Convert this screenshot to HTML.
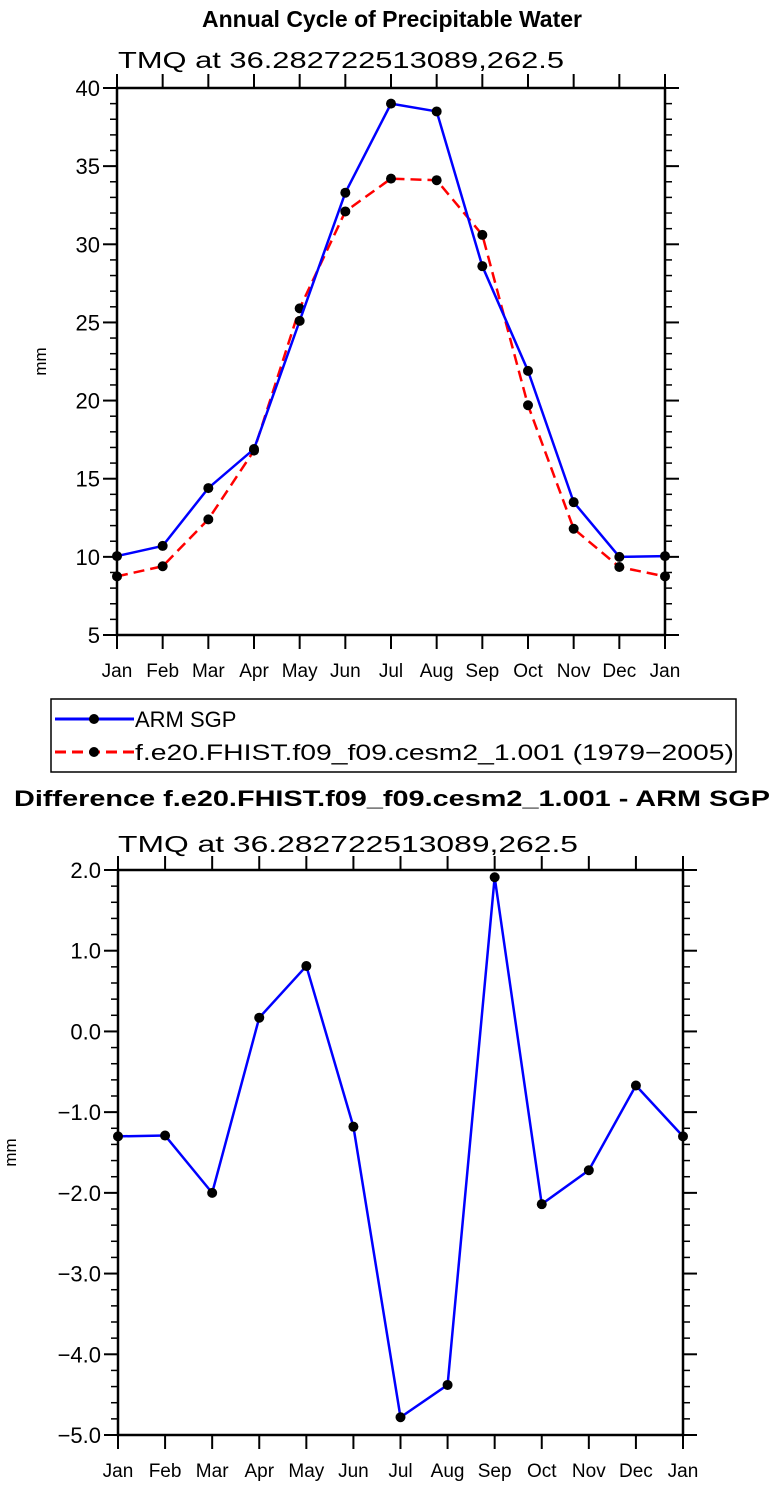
<!DOCTYPE html>
<html><head><meta charset="utf-8"><style>
html,body{margin:0;padding:0;background:#fff;}
svg{display:block;font-family:"Liberation Sans",sans-serif;}
</style></head><body>
<svg id="c" width="778" height="1489" viewBox="0 0 778 1489">
<text x="392" y="27" text-anchor="middle" font-size="23" font-weight="bold">Annual Cycle of Precipitable Water</text>
<text x="118" y="68" font-size="23" textLength="446" lengthAdjust="spacingAndGlyphs">TMQ at 36.282722513089,262.5</text>
<text x="392" y="806" text-anchor="middle" font-size="22" font-weight="bold" textLength="756" lengthAdjust="spacingAndGlyphs">Difference f.e20.FHIST.f09_f09.cesm2_1.001 - ARM SGP</text>
<text x="118" y="852" font-size="23" textLength="460" lengthAdjust="spacingAndGlyphs">TMQ at 36.282722513089,262.5</text>
<g>
<rect x="51" y="699" width="685" height="73" fill="#fff" stroke="#000" stroke-width="1.5"/>
<g>
<line x1="55" y1="719" x2="134" y2="719" stroke="#0000ff" stroke-width="3"/>
<circle cx="94" cy="719" r="5" fill="#000"/>
<text x="135" y="727" font-size="22">ARM SGP</text></g>
<g>
<line x1="55" y1="752" x2="134" y2="752" stroke="#ff0000" stroke-width="3" stroke-dasharray="11,6"/>
<circle cx="94" cy="752" r="5" fill="#000"/>
<text x="135" y="760" font-size="22" textLength="599" lengthAdjust="spacingAndGlyphs">f.e20.FHIST.f09_f09.cesm2_1.001 (1979−2005)</text></g>
</g>
</svg>
<script>
const months = ["Jan","Feb","Mar","Apr","May","Jun","Jul","Aug","Sep","Oct","Nov","Dec","Jan"];
const armValues = [10.05,10.7,14.4,16.9,25.1,33.3,39.0,38.5,28.6,21.9,13.5,10.0,10.05];
const modelValues = [8.75,9.4,12.4,16.8,25.9,32.1,34.2,34.1,30.6,19.7,11.8,9.35,8.75];
const diffValues = [-1.3,-1.29,-2.0,0.17,0.81,-1.18,-4.78,-4.38,1.91,-2.14,-1.72,-0.67,-1.3];
const topTicks = [5,10,15,20,25,30,35,40];
const topTickLabels = ["5","10","15","20","25","30","35","40"];
const botTicks = [-5,-4,-3,-2,-1,0,1,2];
const botTickLabels = ["−5.0","−4.0","−3.0","−2.0","−1.0","0.0","1.0","2.0"];

const NS="http://www.w3.org/2000/svg";
const svg=document.getElementById('c');
function mk(tag,attrs,parent){const e=document.createElementNS(NS,tag);for(const k in attrs)e.setAttribute(k,attrs[k]);(parent||svg).appendChild(e);return e;}

function panel(o){
  const g=mk('g',{});
  
  
  const xs=i=>o.x0+(o.x1-o.x0)*i/(months.length-1);
  const ys=v=>o.y1-(v-o.ymin)/(o.ymax-o.ymin)*(o.y1-o.y0);
  for(let v=o.ymin;v<=o.ymax+1e-9;v+=o.minor){
    const y=ys(v);
    mk('line',{x1:o.x0-7,y1:y,x2:o.x0,y2:y,stroke:'#000','stroke-width':1.5},g);
    mk('line',{x1:o.x1,y1:y,x2:o.x1+7,y2:y,stroke:'#000','stroke-width':1.5},g);
  }
  o.ticks.forEach((v,i)=>{
    const y=ys(v);
    mk('line',{x1:o.x0-14,y1:y,x2:o.x0,y2:y,stroke:'#000','stroke-width':2},g);
    mk('line',{x1:o.x1,y1:y,x2:o.x1+14,y2:y,stroke:'#000','stroke-width':2},g);
    const t=mk('text',{x:o.x0-17,y:y+8,'text-anchor':'end','font-size':22},g);
    
    
    t.textContent=o.labels[i];
  });
  months.forEach((m,i)=>{
    const x=xs(i);
    mk('line',{x1:x,y1:o.y0-14,x2:x,y2:o.y0,stroke:'#000','stroke-width':2},g);
    mk('line',{x1:x,y1:o.y1,x2:x,y2:o.y1+14,stroke:'#000','stroke-width':2},g);
    const t=mk('text',{x:x,y:o.y1+42,'text-anchor':'middle','font-size':19},g);
    
    
    t.textContent=m;
  });
  const box=mk('rect',{x:o.x0,y:o.y0,width:o.x1-o.x0,height:o.y1-o.y0,fill:'none',stroke:'#000','stroke-width':2.5},g);
  
  
  const yl=mk('text',{x:0,y:0,'text-anchor':'middle','font-size':17,transform:`translate(${o.ylx},${(o.y0+o.y1)/2}) rotate(-90)`},g);
  
  
  yl.textContent='mm';
  o.series.forEach(s=>{
    const pts=s.vals.map((v,i)=>xs(i)+','+ys(v)).join(' ');
    const pl=mk('polyline',{points:pts,fill:'none',stroke:s.color,'stroke-width':2.5,'stroke-dasharray':s.dash||'none'},g);
    
    
    s.vals.forEach((v,i)=>{
      const c=mk('circle',{cx:xs(i),cy:ys(v),r:5,fill:'#000'},g);
      
      
    });
  });
}
panel({name:'top-chart',x0:117,x1:665,y0:88,y1:635,ymin:5,ymax:40,minor:1,ticks:topTicks,labels:topTickLabels,ylx:46,
  series:[{name:'model',vals:modelValues,color:'#ff0000',dash:'11,6'},{name:'arm-sgp',vals:armValues,color:'#0000ff'}]});
panel({name:'bottom-chart',x0:118,x1:683,y0:870,y1:1435,ymin:-5,ymax:2,minor:0.2,ticks:botTicks,labels:botTickLabels,ylx:16,
  series:[{name:'difference',vals:diffValues,color:'#0000ff'}]});
</script>
</body></html>
